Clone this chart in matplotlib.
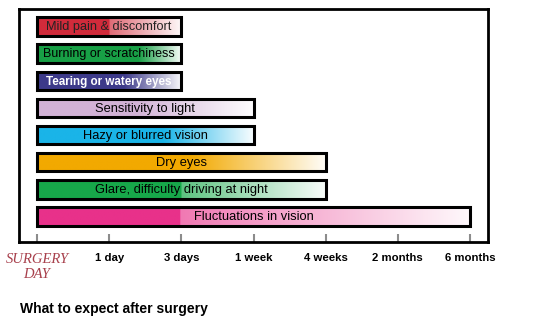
import numpy as np
import matplotlib
matplotlib.use("Agg")
import matplotlib.pyplot as plt
from matplotlib.patches import Rectangle
from matplotlib.colors import to_rgb

# timeline categories (x axis)
timeline = ["SURGERY\nDAY", "1 day", "3 days", "1 week", "4 weeks", "2 months", "6 months"]

# symptoms, top to bottom, and the timeline index where each one ends
symptoms = ["Mild pain & discomfort", "Burning or scratchiness", "Tearing or watery eyes",
            "Sensitivity to light", "Hazy or blurred vision", "Dry eyes",
            "Glare, difficulty driving at night", "Fluctuations in vision"]
end_index = [2, 2, 2, 3, 3, 4, 4, 6]

# styling
colors = ["#d12b3b", "#18a046", "#3d3a8a", "#d2b2d6", "#1ab4e8", "#f2a900", "#17a84a", "#e8318a"]
text_colors = ["#222222", "black", "white", "black", "black", "black", "black", "black"]
text_weights = ["normal", "normal", "bold", "normal", "normal", "normal", "normal", "normal"]
text_sizes = [9.2, 9.0, 8.4, 9.3, 9.3, 9.3, 9.3, 9.3]
solid_frac = [0.5, 0.7, 0.6, 0.45, 0.58, 0.53, 0.5, 0.33]
step_blend = [0.3, 0.0, 0.0, 0.0, 0.0, 0.0, 0.3, 0.35]

plt.rcParams['font.family'] = ['Liberation Sans', 'DejaVu Sans']

W, H = 550, 331
fig = plt.figure(figsize=(W / 100, H / 100), dpi=100)
ax = fig.add_axes([19 / W, 1 - 242 / H, (488 - 19) / W, (242 - 9) / H])

bar_h = 0.68
n = 300
for i, name in enumerate(symptoms):
    end = end_index[i]
    t = np.linspace(0, 1, n)
    s = solid_frac[i]
    blend = np.where(t < s, 0.0, step_blend[i] + (0.97 - step_blend[i]) * (t - s) / (1 - s))
    c = np.array(to_rgb(colors[i]))
    img = c[None, :] * (1 - blend[:, None]) + blend[:, None] * 1.0
    img = img[None, :, :]
    top, bot = i - bar_h / 2, i + bar_h / 2
    ax.imshow(img, extent=[0, end, bot, top], aspect='auto', interpolation='bilinear', zorder=1)
    ax.add_patch(Rectangle((0, top), end, bar_h, fill=False, edgecolor='black',
                           linewidth=2.2, zorder=2))
    ax.text(end / 2, i + 0.03, name, ha='center', va='center', fontsize=text_sizes[i],
            color=text_colors[i], fontweight=text_weights[i], zorder=3)

ax.set_xlim(-(37 - 19) / 72.17, 6 + (488 - 470) / 72.17)
ax.set_ylim(7.94, -0.645)

ax.set_xticks(range(len(timeline)))
ax.set_xticklabels(timeline, fontsize=8.2, fontweight='bold')
ax.tick_params(axis='x', direction='in', length=6, width=1.5, color='#8c8c8c', pad=8)
ax.set_yticks([])
first = ax.get_xticklabels()[0]
first.set_fontfamily('Liberation Serif')
first.set_fontstyle('italic')
first.set_fontweight('normal')
first.set_fontsize(10.5)
first.set_color('#a8404c')
first.set_linespacing(1.2)

for sp in ax.spines.values():
    sp.set_linewidth(2)
    sp.set_color('black')

fig.text(20 / W, 1 - 309 / H, "What to expect after surgery", fontsize=10,
         fontweight='bold', va='center', ha='left')

fig.savefig("out.png", dpi=100)
